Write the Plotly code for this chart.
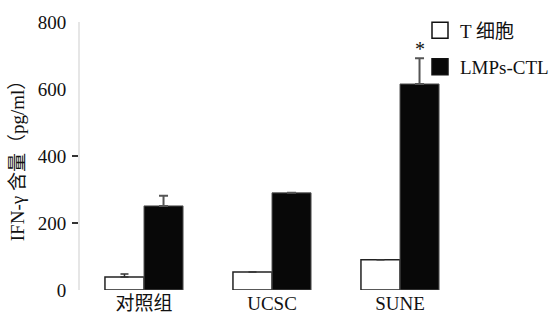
import plotly.graph_objects as go

# IFN-γ secretion by group
groups = ["对照组", "UCSC", "SUNE"]
t_cells = [39, 54, 90]
t_cells_err = [9, 0, 0]
ctl = [251, 290, 615]
ctl_err = [30, 0, 77]
y_ticks = [0, 200, 400, 600, 800]
series_names = ["T 细胞", "LMPs-CTL"]

serif = "Liberation Serif, Times New Roman, Noto Sans CJK SC, serif"
zeros = [0, 0, 0]

fig = go.Figure()
fig.add_trace(go.Bar(
    x=groups, y=t_cells, name=series_names[0], showlegend=False,
    marker=dict(color="white", line=dict(color="#222", width=1.5)),
    error_y=dict(type="data", array=t_cells_err, arrayminus=zeros,
                 visible=True, color="#333", thickness=1.5, width=4),
))
fig.add_trace(go.Bar(
    x=groups, y=ctl, name=series_names[1], showlegend=False,
    marker=dict(color="#080808", line=dict(color="#555", width=1)),
    error_y=dict(type="data", array=ctl_err, arrayminus=zeros,
                 visible=True, color="#555", thickness=2, width=4.5),
))

# legend keys as larger square swatches
for name, fill, grp in [(series_names[0], "white", "a"),
                        (series_names[1], "#080808", "b")]:
    fig.add_trace(go.Scatter(
        x=[None], y=[None], mode="markers", name=name, legendgroup=grp,
        marker=dict(symbol="square", size=16, color=fill,
                    line=dict(color="#111", width=1.5)),
    ))

# significance marker above the SUNE CTL bar
fig.add_annotation(
    x="SUNE", y=ctl[2] + ctl_err[2], xshift=20, yshift=-4,
    text="*", showarrow=False, yanchor="bottom",
    font=dict(family=serif, size=20, color="#111"),
)

fig.update_layout(
    width=553, height=327,
    margin=dict(l=80, r=89, t=22, b=37, autoexpand=False),
    plot_bgcolor="white", paper_bgcolor="white",
    barmode="group", bargap=0.39, bargroupgap=0,
    font=dict(family=serif, size=17, color="#111"),
    legend=dict(
        xref="container", x=0.7595, y=1.04, xanchor="left", yanchor="top",
        bgcolor="rgba(0,0,0,0)", tracegroupgap=9, itemsizing="trace",
        font=dict(family=serif, size=19),
    ),
    showlegend=True,
)
fig.update_xaxes(
    range=[-0.5, 2.5], showline=False, showgrid=False, ticks="",
    tickfont=dict(family=serif, size=19),
)
fig.update_yaxes(
    range=[0, 800], tickvals=y_ticks, showgrid=False, zeroline=False,
    showline=True, linecolor="#e6e6e6", linewidth=2,
    ticks="", ticklabelstandoff=8,
    minor=dict(tickvals=[200, 400], ticks="outside", ticklen=6,
               tickcolor="#333", tickwidth=1.5),
    tickfont=dict(family=serif, size=19),
    title=dict(text="IFN-γ 含量（pg/ml）", standoff=8,
               font=dict(family=serif, size=19)),
)

fig.write_html("out.html")
